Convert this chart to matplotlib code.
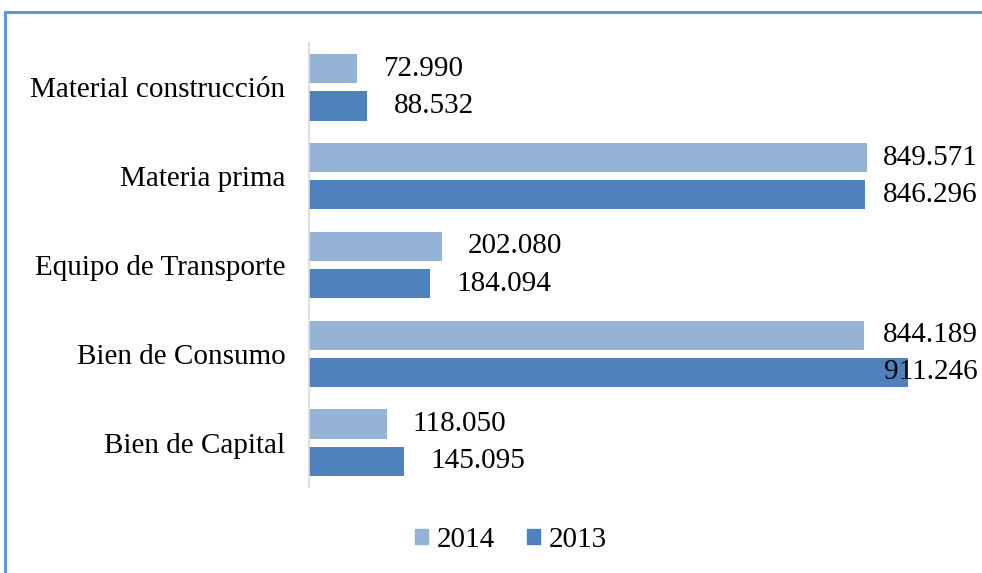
import matplotlib
matplotlib.use("Agg")
import matplotlib.pyplot as plt
from matplotlib.patches import Rectangle, Patch

plt.rcParams['font.family'] = ['Liberation Serif', 'DejaVu Serif']

categorias = ["Material construcción", "Materia prima", "Equipo de Transporte",
              "Bien de Consumo", "Bien de Capital"]
v2014 = [72.990, 849.571, 202.080, 844.189, 118.050]
v2013 = [88.532, 846.296, 184.094, 911.246, 145.095]
etiq2014 = ["72.990", "849.571", "202.080", "844.189", "118.050"]
etiq2013 = ["88.532", "846.296", "184.094", "911.246", "145.095"]

c2014 = "#95B3D7"
c2013 = "#4F81BD"

fig = plt.figure(figsize=(9.82, 5.73), dpi=100)
# marco del grafico (recortado a la derecha y abajo)
fig.patches.append(Rectangle((5 / 982, -0.1), 1.2, 1 - 12 / 573 + 0.1,
                             transform=fig.transFigure, fill=False,
                             edgecolor="#5B9BD5", linewidth=2.2))

ax = fig.add_axes([309 / 982, 1 - 487 / 573, 657 / 982, 444 / 573])

ys = range(len(categorias))
h = 0.33
off = 0.21
ax.barh([y - off for y in ys], v2014, height=h, color=c2014)
ax.barh([y + off for y in ys], v2013, height=h, color=c2013)


def etiqueta(x, y, t):
    # las etiquetas largas se pegan al borde derecho para que no se corten
    if x + 40 > 830:
        ax.text(1018, y, t, va="center", ha="right", fontsize=21, clip_on=False)
    else:
        ax.text(x + 40, y, t, va="center", ha="left", fontsize=21, clip_on=False)


for y, v, t in zip(ys, v2014, etiq2014):
    etiqueta(v, y - off, t)
for y, v, t in zip(ys, v2013, etiq2013):
    etiqueta(v, y + off, t)

ax.set_xlim(0, 1000)
ax.set_ylim(4.5, -0.5)
ax.set_yticks(list(ys))
ax.set_yticklabels(categorias, fontsize=21)
ax.tick_params(axis="y", length=0, pad=17)
ax.set_xticks([])
for s in ["top", "right", "bottom"]:
    ax.spines[s].set_visible(False)
ax.spines["left"].set_color("#D9D9D9")
ax.spines["left"].set_linewidth(1.2)

handles = [Patch(color=c2014, label="2014"), Patch(color=c2013, label="2013")]
fig.legend(handles=handles, loc="center", bbox_to_anchor=(0.52, 1 - 540 / 573),
           ncol=2, frameon=False, fontsize=21, handlelength=0.45,
           handleheight=0.45, handletextpad=0.3, columnspacing=1.1)

fig.savefig("out.png", dpi=100)
